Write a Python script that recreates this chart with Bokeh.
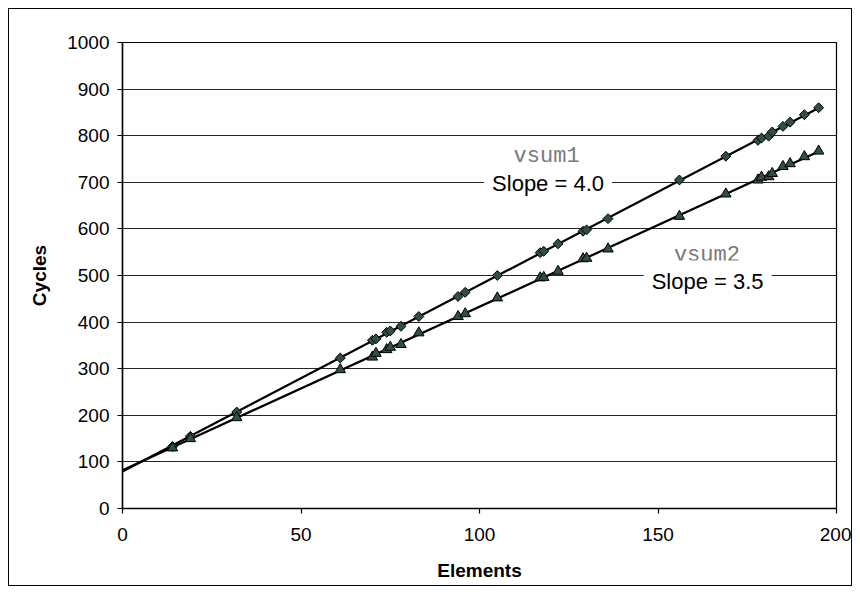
import numpy as np
from bokeh.plotting import figure
from bokeh.models import Label, SingleIntervalTicker, Range1d
from bokeh.embed import file_html
from bokeh.resources import INLINE

# ---- data ----
elements = [14, 19, 32, 61, 70, 71, 74, 75, 78, 83, 94, 96, 105, 117, 118, 122,
            129, 130, 136, 156, 169, 178, 179, 181, 182, 185, 187, 191, 195]
vsum1_cycles = [133, 155, 207, 323, 361, 364, 378, 381, 391, 412, 455, 464, 500,
                549, 552, 568, 595, 598, 622, 705, 756, 790, 795, 799, 808, 820,
                829, 845, 860]
vsum2_cycles = [130, 150, 195, 298, 325, 333, 341, 346, 352, 377, 412, 418, 452,
                495, 496, 509, 536, 537, 557, 627, 675, 705, 711, 712, 719, 734,
                740, 755, 767]
x_ticks_step = 50
y_ticks_step = 100

FONT = "Liberation Sans"
MONO = "Liberation Mono"
MARK = "#2f4f3f"

p = figure(frame_width=714, frame_height=466,
           min_border_left=113, min_border_right=15,
           min_border_top=33, min_border_bottom=77,
           x_range=Range1d(0, 200), y_range=Range1d(0, 1000),
           output_backend="svg", toolbar_location=None,
           background_fill_color="white", border_fill_color="white")
p.styles = {"border": "1px solid black", "margin-left": "8px", "margin-top": "8px"}

p.outline_line_color = "black"
p.outline_line_width = 1.2

# grid
p.xgrid.grid_line_color = None
p.ygrid.grid_line_color = "#262626"
p.ygrid.grid_line_width = 1.2
p.ygrid.ticker = SingleIntervalTicker(interval=y_ticks_step)

for ax in (p.xaxis[0], p.yaxis[0]):
    ax.axis_line_color = "black"
    ax.axis_line_width = 1.5
    ax.major_tick_line_color = "black"
    ax.major_tick_line_width = 1.2
    ax.major_tick_in = 0
    ax.major_tick_out = 5
    ax.minor_tick_line_color = None
    ax.major_label_text_font = FONT
    ax.major_label_text_font_size = "19px"
    ax.major_label_text_color = "black"
    ax.axis_label_text_font = FONT
    ax.axis_label_text_font_size = "19px"
    ax.axis_label_text_font_style = "bold"
    ax.axis_label_text_color = "black"

p.xaxis.ticker = SingleIntervalTicker(interval=x_ticks_step)
p.yaxis.ticker = SingleIntervalTicker(interval=y_ticks_step)
p.xaxis.axis_label = "Elements"
p.yaxis.axis_label = "Cycles"
p.xaxis.major_label_standoff = 14
p.yaxis.major_label_standoff = 8
p.xaxis.axis_label_standoff = 16
p.yaxis.axis_label_standoff = 14

# trend lines (least-squares fit of each series)
x_line = np.array([0.0, max(elements)])
for ys in (vsum1_cycles, vsum2_cycles):
    slope, icpt = np.polyfit(elements, ys, 1)
    p.line(x_line, icpt + slope * x_line, line_color="black", line_width=2.2)

# markers
p.scatter(elements, vsum1_cycles, marker="square", angle=np.pi / 4, size=7,
          fill_color=MARK, line_color="black", line_width=1)
p.scatter(elements, vsum2_cycles, marker="triangle", size=10.5,
          fill_color=MARK, line_color="black", line_width=1)

# annotations
def name_label(x, y, t):
    p.add_layout(Label(x=x, y=y, text=t, text_align="center",
                       text_baseline="middle", text_font=MONO,
                       text_font_size="22px", text_color="#7a7a7a"))

def slope_label(x, y, t):
    p.add_layout(Label(x=x, y=y, text=t, text_align="center",
                       text_baseline="middle", text_font=FONT,
                       text_font_size="22px", text_color="black",
                       background_fill_color="white", padding=8))

name_label(118.8, 756, "vsum1")
slope_label(119.2, 697, "Slope = 4.0")
name_label(163.7, 543, "vsum2")
slope_label(163.9, 488, "Slope = 3.5")

open("out.html", "w").write(file_html(p, INLINE))
